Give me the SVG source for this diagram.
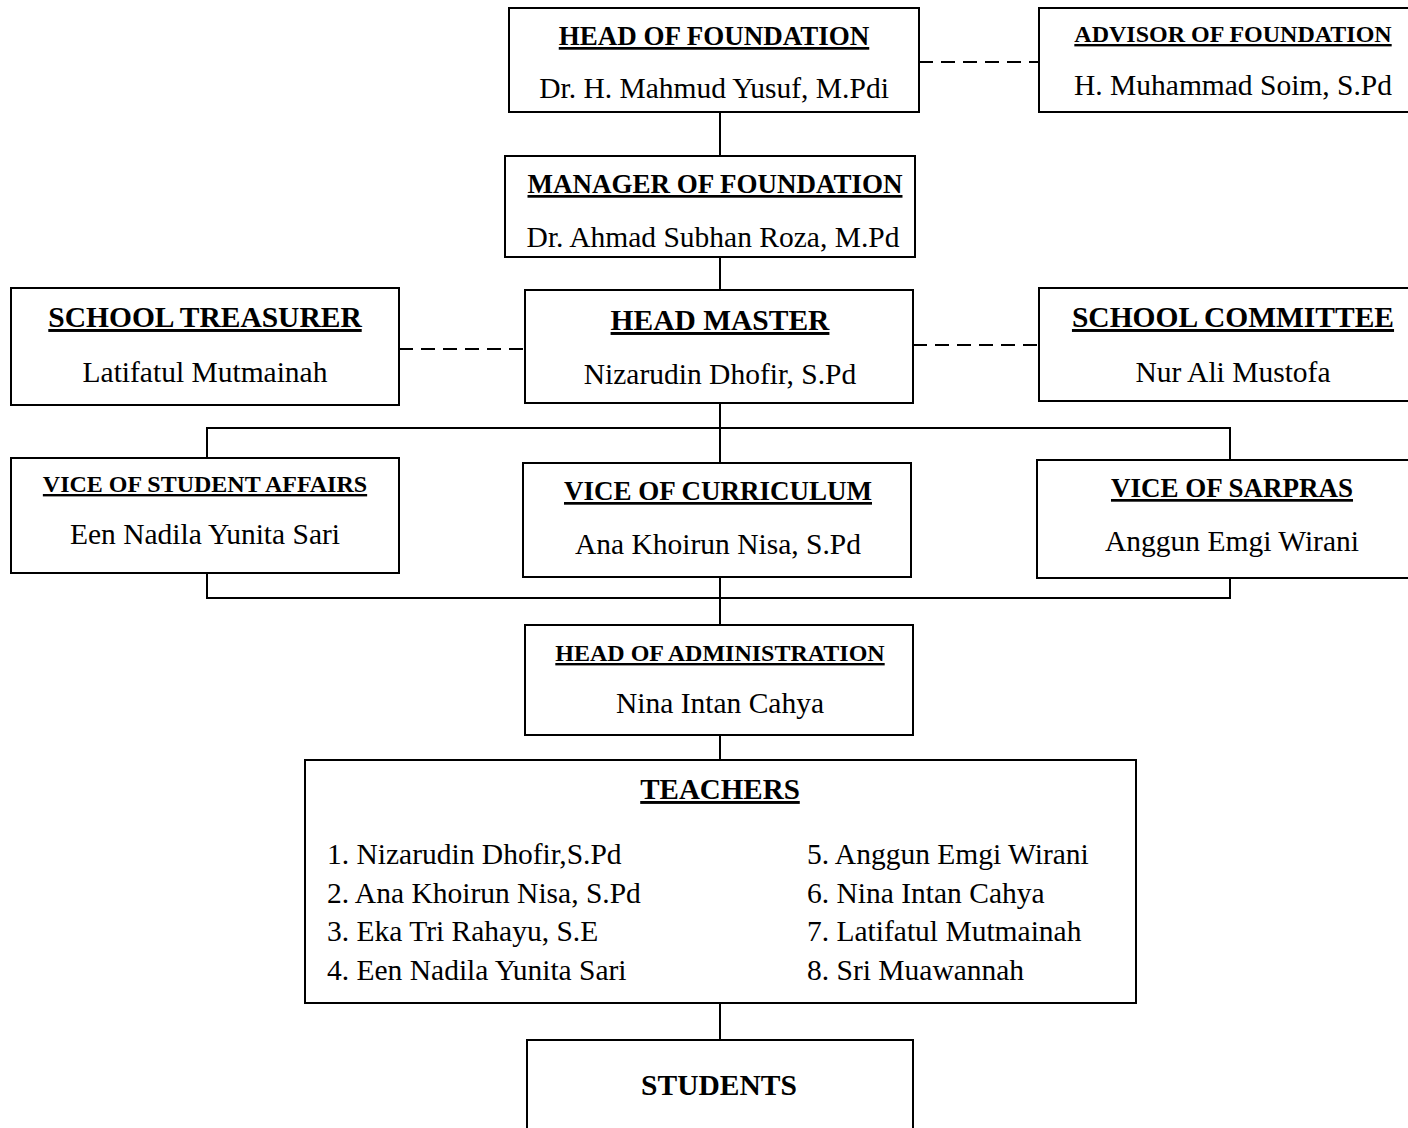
<svg xmlns="http://www.w3.org/2000/svg" width="1408" height="1128" viewBox="0 0 1408 1128">
<style>
rect.box{fill:#fff;stroke:#000;stroke-width:2}
.c{stroke:#000;stroke-width:2;fill:none}
.d{stroke:#000;stroke-width:2;fill:none;stroke-dasharray:14 8}
text{font-family:"Liberation Serif","Times New Roman",serif;fill:#000}
.t{font-weight:bold;text-decoration:underline;text-anchor:middle}
.n{font-size:29.5px;text-anchor:middle}
.l{font-size:29.5px}
</style>
<g id="connectors">
<line class="c" x1="720" y1="112" x2="720" y2="156"/>
<line class="c" x1="720" y1="257" x2="720" y2="290"/>
<line class="d" x1="919" y1="62" x2="1039" y2="62"/>
<line class="d" x1="399" y1="349" x2="525" y2="349"/>
<line class="d" x1="913" y1="345" x2="1039" y2="345"/>
<polyline class="c" points="207,458 207,428 1230,428 1230,460"/>
<line class="c" x1="720" y1="403" x2="720" y2="463"/>
<polyline class="c" points="207,573 207,598 1230,598 1230,578"/>
<line class="c" x1="720" y1="577" x2="720" y2="625"/>
<line class="c" x1="720" y1="735" x2="720" y2="760"/>
<line class="c" x1="720" y1="1003" x2="720" y2="1040"/>
</g>
<g id="head-foundation">
<rect class="box" x="509" y="8" width="410" height="104"/>
<text class="t" x="714" y="45" font-size="27">HEAD OF FOUNDATION</text>
<text class="n" x="714" y="98">Dr. H. Mahmud Yusuf, M.Pdi</text>
</g>
<g id="advisor-foundation">
<rect class="box" x="1039" y="8" width="380" height="104"/>
<text class="t" x="1233" y="42" font-size="24">ADVISOR OF FOUNDATION</text>
<text class="n" x="1233" y="95">H. Muhammad Soim, S.Pd</text>
</g>
<g id="manager-foundation">
<rect class="box" x="505" y="156" width="410" height="101"/>
<text class="t" x="715" y="193" font-size="27">MANAGER OF FOUNDATION</text>
<text class="n" x="713" y="247">Dr. Ahmad Subhan Roza, M.Pd</text>
</g>
<g id="school-treasurer">
<rect class="box" x="11" y="288" width="388" height="117"/>
<text class="t" x="205" y="327" font-size="29.5">SCHOOL TREASURER</text>
<text class="n" x="205" y="382">Latifatul Mutmainah</text>
</g>
<g id="head-master">
<rect class="box" x="525" y="290" width="388" height="113"/>
<text class="t" x="720" y="330" font-size="29.5">HEAD MASTER</text>
<text class="n" x="720" y="384">Nizarudin Dhofir, S.Pd</text>
</g>
<g id="school-committee">
<rect class="box" x="1039" y="288" width="380" height="113"/>
<text class="t" x="1233" y="327" font-size="29.5">SCHOOL COMMITTEE</text>
<text class="n" x="1233" y="382">Nur Ali Mustofa</text>
</g>
<g id="vice-student-affairs">
<rect class="box" x="11" y="458" width="388" height="115"/>
<text class="t" x="205" y="492" font-size="24">VICE OF STUDENT AFFAIRS</text>
<text class="n" x="205" y="544">Een Nadila Yunita Sari</text>
</g>
<g id="vice-curriculum">
<rect class="box" x="523" y="463" width="388" height="114"/>
<text class="t" x="718" y="500" font-size="27">VICE OF CURRICULUM</text>
<text class="n" x="718" y="554">Ana Khoirun Nisa, S.Pd</text>
</g>
<g id="vice-sarpras">
<rect class="box" x="1037" y="460" width="380" height="118"/>
<text class="t" x="1232" y="497" font-size="27">VICE OF SARPRAS</text>
<text class="n" x="1232" y="551">Anggun Emgi Wirani</text>
</g>
<g id="head-administration">
<rect class="box" x="525" y="625" width="388" height="110"/>
<text class="t" x="720" y="661" font-size="24">HEAD OF ADMINISTRATION</text>
<text class="n" x="720" y="713">Nina Intan Cahya</text>
</g>
<g id="teachers">
<rect class="box" x="305" y="760" width="831" height="243"/>
<text class="t" x="720" y="799" font-size="29">TEACHERS</text>
<text class="l" x="327" y="864">1. Nizarudin Dhofir,S.Pd</text>
<text class="l" x="327" y="903">2. Ana Khoirun Nisa, S.Pd</text>
<text class="l" x="327" y="941">3. Eka Tri Rahayu, S.E</text>
<text class="l" x="327" y="980">4. Een Nadila Yunita Sari</text>
<text class="l" x="807" y="864">5. Anggun Emgi Wirani</text>
<text class="l" x="807" y="903">6. Nina Intan Cahya</text>
<text class="l" x="807" y="941">7. Latifatul Mutmainah</text>
<text class="l" x="807" y="980">8. Sri Muawannah</text>
</g>
<g id="students">
<rect class="box" x="527" y="1040" width="386" height="100"/>
<text x="719" y="1095" font-size="29.5" font-weight="bold" text-anchor="middle">STUDENTS</text>
</g>
</svg>
